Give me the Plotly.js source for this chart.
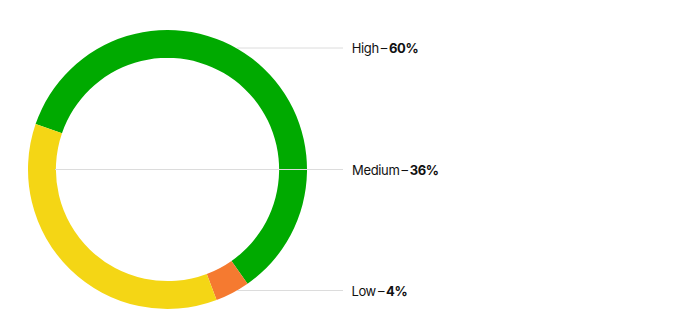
<!DOCTYPE html>
<html>
<head>
<meta charset="utf-8">
<script src="https://cdn.plot.ly/plotly-3.0.1.min.js"></script>
<style>
html,body{margin:0;padding:0;background:#fff;}
#chart{width:689px;height:330px;}
#chart .annotation-text{letter-spacing:-0.35px;}
</style>
</head>
<body>
<div id="chart"></div>
<script>
// Data
var categories = ["High", "Medium", "Low"];
var values = [60, 36, 4];
var colors = ["#00AA00", "#F4D615", "#F57A30"];
// drawing order of slices (clockwise from start)
var sliceOrder = [0, 2, 1];

// label layout (pixel rows for the callouts)
var labelY = [48, 169.5, 290.5];
var lineStartX = [237, 55, 237];

var W = 689, H = 330;
var cx = 167.5, cy = 169.5, R = 139.5;

var pieLabels = sliceOrder.map(function(i){return categories[i];});
var pieValues = sliceOrder.map(function(i){return values[i];});
var pieColors = sliceOrder.map(function(i){return colors[i];});

var trace = {
  type: "pie",
  labels: pieLabels,
  values: pieValues,
  marker: {colors: pieColors, line: {width: 0}},
  hole: 0.8,
  sort: false,
  direction: "clockwise",
  rotation: -71,
  textinfo: "none",
  hoverinfo: "label+percent",
  showlegend: false,
  domain: {x: [(cx - R) / W, (cx + R) / W], y: [(H - cy - R) / H, (H - cy + R) / H]}
};

var shapes = [], annotations = [];
categories.forEach(function(c, i) {
  var y = (H - labelY[i]) / H;
  shapes.push({
    type: "line", xref: "paper", yref: "paper",
    x0: lineStartX[i] / W, x1: 343 / W, y0: y, y1: y,
    line: {color: "#DCDCDC", width: 1}, layer: "above"
  });
  annotations.push({
    xref: "paper", yref: "paper", x: 348 / W, y: y,
    xanchor: "left", yanchor: "middle", showarrow: false,
    text: c + "\u2009–\u2009<b>" + values[i] + "%</b>",
    font: {family: "Inter, 'Open Sans', sans-serif", size: 13, color: "#111111"}
  });
});

var layout = {
  width: W, height: H,
  margin: {l: 0, r: 0, t: 0, b: 0},
  paper_bgcolor: "#ffffff",
  plot_bgcolor: "#ffffff",
  showlegend: false,
  shapes: shapes,
  annotations: annotations
};

Plotly.newPlot("chart", [trace], layout, {displayModeBar: false, staticPlot: true});
</script>
</body>
</html>
